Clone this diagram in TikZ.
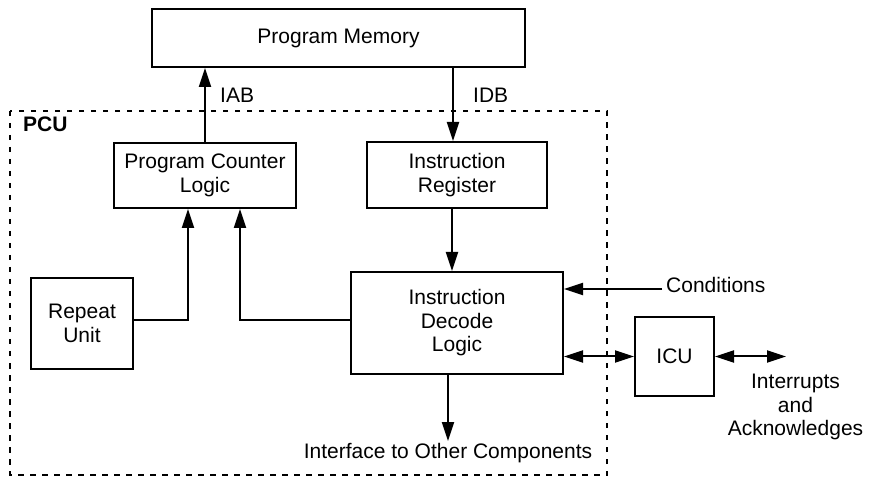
\documentclass[tikz,border=0pt]{standalone}
\usepackage{fontspec}
\setmainfont{Liberation Sans}
\usetikzlibrary{arrows.meta}

\tikzset{
  lbl/.style={font=\fontsize{21}{23.5}\selectfont, align=center, inner sep=2pt},
  unit/.style={lbl, draw, line width=2pt, inner sep=0pt},
  arr/.style={line width=2pt, -{Triangle[length=19pt,width=12pt]}},
  darr/.style={line width=2pt, {Triangle[length=19pt,width=12pt]}-{Triangle[length=19pt,width=12pt]}},
  pcubox/.style={line width=2pt, dash pattern=on 5.5pt off 6.5pt},
}

\begin{document}
\begin{tikzpicture}[x=1pt,y=-1pt]
  \useasboundingbox (0,0) rectangle (873,478);

  % processor control unit boundary
  \draw[pcubox] (10,111) rectangle (607,475);
  \node[lbl, anchor=west, font=\fontsize{21}{23.5}\selectfont\bfseries] (pcu) at (21,124) {PCU};

  % functional blocks
  \node[unit, minimum width=373pt, minimum height=58pt] (pm)  at (338.5,38)   {Program Memory};
  \node[unit, minimum width=182pt, minimum height=65pt] (pcl) at (205,175.5)  {Program Counter\\Logic};
  \node[unit, minimum width=180pt, minimum height=66pt] (ir)  at (457,175)    {Instruction\\Register};
  \node[unit, minimum width=102pt, minimum height=91pt] (ru)  at (82,323.5)   {Repeat\\Unit};
  \node[unit, minimum width=212pt, minimum height=102pt] (idl) at (457,323)   {Instruction\\Decode\\Logic};
  \node[unit, minimum width=79pt, minimum height=79pt]  (icu) at (674.5,356.5) {ICU};

  % free labels
  \node[lbl, anchor=west] (iab) at (218,95) {IAB};
  \node[lbl, anchor=west] (idb) at (471,95) {IDB};
  \node[lbl, anchor=base west, inner xsep=4pt] (cond) at (662,293) {Conditions};
  \node[lbl, anchor=north] (iface) at (448,441) {Interface to Other Components};
  \node[lbl] (intr) at (795.5,407) {Interrupts\\and\\Acknowledges};
  \coordinate (intend) at (786,356.5);

  % buses
  \draw[arr] (pcl.north) -- (pcl.north |- pm.south);
  \draw[arr] (pm.south -| 453,0) -- (ir.north -| 453,0);
  \draw[arr] (ir.south -| 452,0) -- (idl.north -| 452,0);

  % feedback into the program counter
  \draw[arr] (ru.east |- 0,320) -| (pcl.south -| 188,0);
  \draw[arr] (idl.west |- 0,320) -| (pcl.south -| 240,0);

  % external signals
  \draw[arr] (cond.west |- 0,289) -- (idl.east |- 0,289);
  \draw[arr] (idl.south -| 448,0) -- (iface.north);
  \draw[darr] (idl.east |- icu.west) -- (icu.west);
  \draw[darr] (icu.east) -- (intend);
\end{tikzpicture}
\end{document}
